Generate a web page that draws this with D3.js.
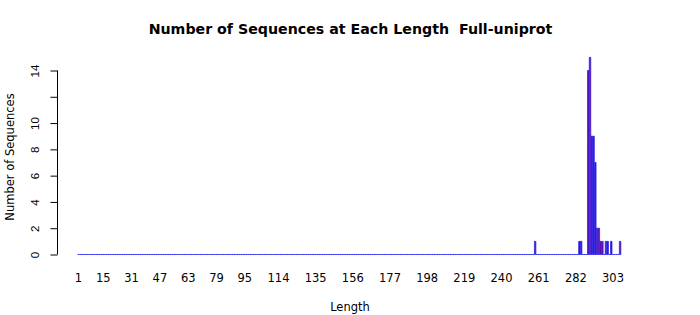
<!DOCTYPE html>
<html>
<head>
<meta charset="utf-8">
<script src="https://cdn.jsdelivr.net/npm/d3@7"></script>
<style>
  html, body { margin: 0; padding: 0; background: #ffffff; }
  svg { display: block; font-family: "DejaVu Sans", sans-serif; }
</style>
</head>
<body>
<svg id="chart" width="700" height="315"></svg>
<script>
// ---- data ----
const minLength = 1;
const maxLength = 307;
const nonZeroLengths = [259, 284, 285, 289, 290, 291, 292, 293, 294, 295, 296, 297, 299, 300, 302, 307];
const nonZeroCounts  = [1,   1,   1,   14,  15,  9,   9,   7,   2,   2,   1,   1,   1,   1,   1,   1];
const xTickLabels = [1, 15, 31, 47, 63, 79, 95, 114, 135, 156, 177, 198, 219, 240, 261, 282, 303];
const yTicks = [0, 2, 4, 6, 8, 10, 12, 14];
const yTickLabels = ["0", "2", "4", "6", "8", "10", "", "14"];
const titleText = "Number of Sequences at Each Length  Full-uniprot";
const xLabel = "Length";
const yLabel = "Number of Sequences";

// ---- build table ----
const categories = d3.range(minLength, maxLength + 1);
const countByLength = new Map(nonZeroLengths.map((l, i) => [l, nonZeroCounts[i]]));
const table = categories.map(l => ({ length: l, count: countByLength.get(l) || 0 }));

const svg = d3.select("#chart");
svg.append("rect").attr("width", 700).attr("height", 315).attr("fill", "#ffffff");

const step = 1.77;
const x0 = 77.6;
const x = d3.scaleBand()
  .domain(categories)
  .range([x0, x0 + step * categories.length])
  .paddingInner(1 / 6)
  .paddingOuter(1 / 12);

const y = d3.scaleLinear().domain([0, 14]).range([254.5, 70.5]);

// bars
svg.append("g")
  .selectAll("path")
  .data(table)
  .join("path")
  .attr("d", d => {
    const a = x(d.length), b = a + x.bandwidth();
    const y0 = y(0), y1 = y(d.count);
    return `M${a},${y0}H${b}V${y1}H${a}Z`;
  })
  .attr("fill", "#7a0090")
  .attr("stroke", "#2626ee")
  .attr("stroke-opacity", 0.9)
  .attr("stroke-width", 0.85);

// y axis
const yAxis = d3.axisLeft(y)
  .tickValues(yTicks)
  .tickSize(7)
  .tickPadding(13)
  .tickFormat((d, i) => yTickLabels[i]);
const gy = svg.append("g").attr("transform", "translate(57.5,0)").call(yAxis);
gy.select(".domain").attr("d", `M0,${y(0)}V${y(14)}`).attr("stroke", "#000");
gy.selectAll(".tick line").attr("stroke", "#000");
gy.selectAll(".tick text")
  .attr("font-size", "11.5px")
  .attr("fill", "#000")
  .attr("x", null).attr("dy", null)
  .attr("text-anchor", "middle")
  .attr("transform", "translate(-19,0) rotate(-90)");

// x tick labels (no axis line, as in the reference)
svg.append("g")
  .selectAll("text")
  .data(xTickLabels)
  .join("text")
  .attr("x", d => x(d) + x.bandwidth() / 2)
  .attr("y", 281.5)
  .attr("text-anchor", "middle")
  .attr("font-size", "11.5px")
  .attr("fill", "#000")
  .text(d => d);

// title
svg.append("text")
  .attr("x", 350.5).attr("y", 34)
  .attr("text-anchor", "middle")
  .attr("font-size", "14.2px")
  .attr("font-weight", "bold")
  .attr("fill", "#000")
  .style("white-space", "pre")
  .attr("xml:space", "preserve")
  .text(titleText);

// x label
svg.append("text")
  .attr("x", 350).attr("y", 311)
  .attr("text-anchor", "middle")
  .attr("font-size", "11.5px")
  .attr("fill", "#000")
  .text(xLabel);

// y label
svg.append("text")
  .attr("transform", "translate(14,157) rotate(-90)")
  .attr("text-anchor", "middle")
  .attr("font-size", "11.5px")
  .attr("fill", "#000")
  .text(yLabel);
</script>
</body>
</html>
